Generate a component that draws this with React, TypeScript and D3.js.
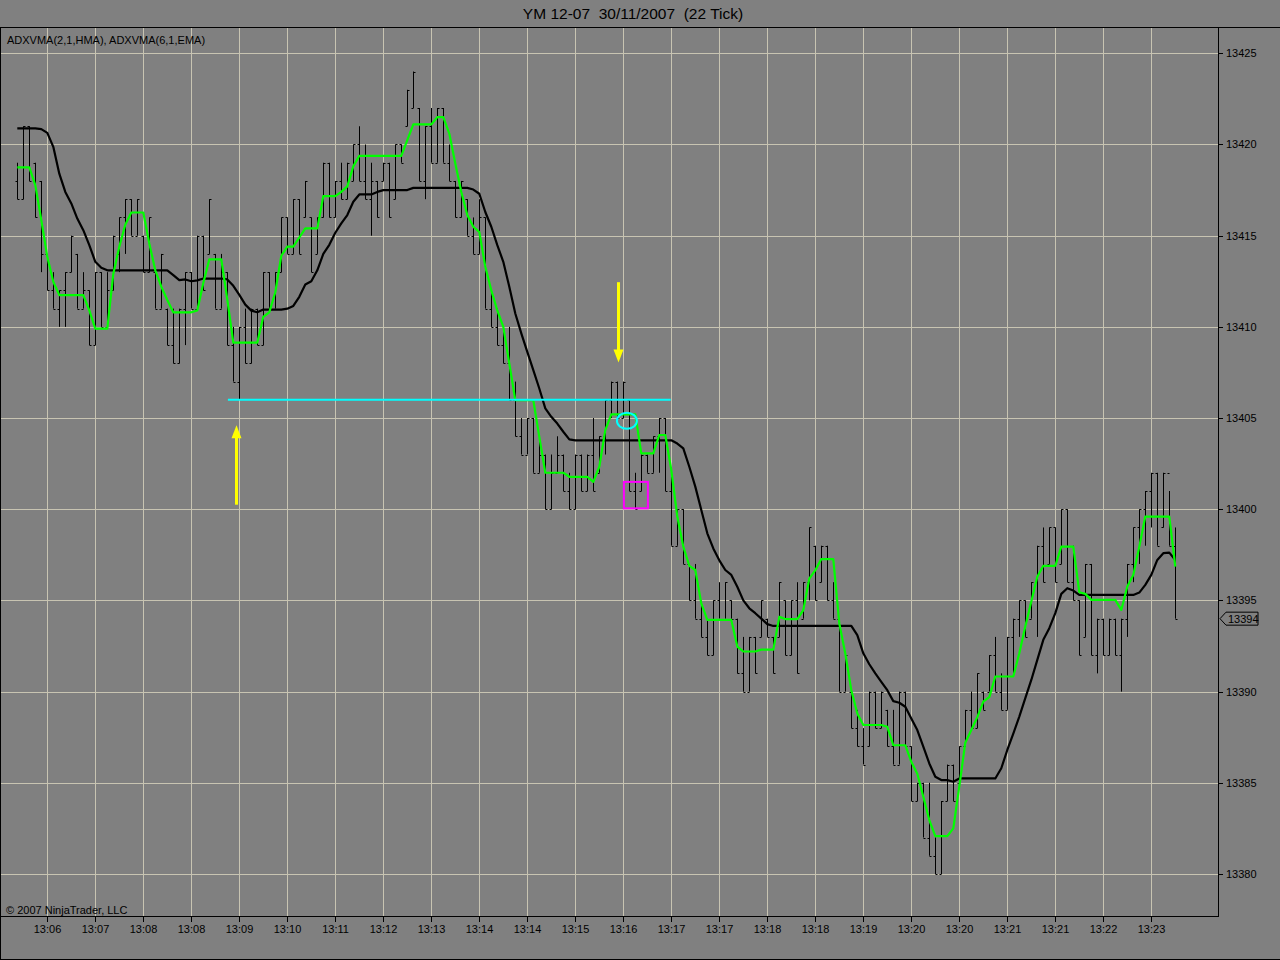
import React from "react";
import * as d3 from "d3";

const highs = [13419,13421,13421,13419,13418,13414,13413,13412,13413,13415,13414,13413,13412,13413,13413,13413,13415,13416,13417,13417,13417,13415,13416,13413,13414,13411,13411,13411,13413,13413,13415,13415,13417,13414,13414,13413,13410,13410,13411,13411,13411,13413,13413,13413,13416,13416,13417,13417,13418,13416,13416,13419,13419,13418,13419,13419,13420,13421,13420,13419,13418,13419,13419,13420,13420,13423,13424,13422,13421,13422,13422,13422,13420,13418,13418,13417,13416,13417,13416,13412,13411,13410,13410,13407,13405,13405,13405,13404,13403,13403,13404,13403,13402,13403,13403,13403,13405,13404,13406,13407,13407,13407,13406,13402,13403,13403,13404,13405,13405,13402,13400,13400,13397,13397,13395,13394,13395,13396,13396,13395,13394,13393,13393,13393,13395,13394,13393,13396,13395,13395,13396,13396,13399,13398,13398,13398,13396,13394,13392,13390,13389,13388,13390,13390,13390,13389,13389,13390,13390,13387,13385,13385,13385,13382,13384,13386,13386,13387,13389,13390,13391,13390,13392,13393,13391,13393,13394,13395,13395,13396,13398,13399,13399,13399,13400,13400,13398,13395,13397,13397,13394,13394,13394,13394,13394,13397,13399,13400,13401,13402,13402,13402,13401,13399];
const lows = [13417,13417,13418,13416,13413,13412,13411,13410,13410,13413,13411,13411,13409,13409,13410,13410,13412,13413,13414,13415,13415,13413,13413,13411,13411,13409,13408,13408,13409,13411,13411,13412,13414,13411,13411,13409,13407,13406,13408,13408,13409,13409,13411,13411,13413,13414,13414,13414,13416,13413,13414,13416,13416,13416,13417,13417,13418,13418,13417,13415,13416,13418,13416,13417,13419,13421,13422,13418,13417,13419,13419,13419,13418,13416,13416,13415,13414,13414,13411,13410,13409,13408,13406,13404,13403,13403,13402,13402,13400,13400,13402,13401,13400,13400,13401,13401,13401,13402,13403,13405,13405,13405,13401,13400,13401,13402,13402,13402,13401,13398,13398,13397,13395,13394,13393,13392,13392,13394,13394,13394,13391,13390,13390,13391,13393,13393,13391,13393,13392,13392,13391,13394,13395,13395,13396,13395,13394,13390,13390,13388,13387,13386,13387,13388,13388,13387,13386,13386,13387,13384,13384,13382,13381,13380,13380,13384,13384,13385,13387,13388,13388,13389,13390,13390,13389,13389,13391,13393,13393,13394,13393,13396,13397,13396,13397,13396,13395,13392,13393,13392,13391,13392,13392,13392,13390,13393,13396,13397,13398,13399,13398,13399,13398,13394];
const opens = [13418,13417,13421,13419,13418,13414,13412,13411,13412,13413,13414,13411,13412,13409,13413,13410,13412,13414,13416,13417,13415,13415,13413,13413,13411,13411,13409,13408,13411,13413,13411,13415,13414,13414,13411,13413,13409,13407,13410,13408,13411,13409,13413,13411,13413,13416,13414,13417,13416,13416,13414,13416,13419,13416,13418,13417,13418,13420,13418,13417,13418,13418,13419,13417,13420,13421,13422,13422,13418,13421,13419,13422,13419,13418,13416,13417,13415,13414,13416,13411,13410,13409,13408,13406,13404,13403,13405,13402,13403,13400,13402,13403,13401,13400,13403,13401,13403,13402,13404,13406,13407,13405,13406,13401,13401,13403,13402,13404,13405,13401,13398,13400,13397,13395,13394,13393,13392,13395,13394,13395,13394,13391,13390,13393,13393,13394,13393,13393,13395,13392,13395,13394,13396,13398,13396,13398,13395,13394,13390,13390,13388,13387,13387,13390,13388,13389,13387,13386,13390,13387,13384,13385,13382,13381,13380,13384,13386,13385,13387,13389,13388,13390,13390,13392,13390,13389,13393,13394,13395,13394,13396,13398,13397,13399,13397,13400,13396,13395,13393,13397,13392,13394,13392,13394,13392,13394,13397,13399,13400,13401,13402,13399,13402,13398];
const closes = [13417,13421,13418,13416,13414,13412,13411,13412,13413,13415,13411,13412,13409,13413,13410,13412,13415,13416,13417,13415,13417,13413,13416,13411,13414,13409,13408,13411,13413,13411,13415,13412,13417,13411,13413,13409,13407,13410,13408,13411,13409,13413,13411,13413,13416,13414,13417,13414,13418,13413,13416,13419,13416,13418,13417,13419,13420,13418,13417,13418,13416,13419,13416,13420,13419,13423,13424,13418,13421,13419,13422,13419,13418,13416,13418,13415,13414,13416,13411,13410,13409,13408,13406,13404,13403,13405,13402,13403,13400,13402,13403,13401,13400,13403,13401,13403,13401,13404,13406,13407,13405,13407,13401,13400,13403,13402,13404,13405,13401,13398,13400,13397,13395,13394,13393,13392,13395,13394,13396,13394,13391,13390,13393,13391,13395,13393,13391,13396,13392,13395,13391,13396,13399,13395,13398,13395,13394,13390,13392,13388,13387,13386,13390,13388,13390,13387,13386,13390,13387,13384,13385,13382,13381,13380,13384,13386,13384,13387,13389,13388,13391,13389,13392,13390,13389,13393,13394,13395,13393,13396,13398,13396,13399,13396,13400,13396,13395,13392,13397,13392,13394,13392,13394,13392,13394,13397,13399,13400,13401,13402,13398,13402,13398,13394];

const adxvmaFast = [13418.74,13418.74,13418.74,13417.77,13415.85,13413.84,13412.47,13411.74,13411.74,13411.74,13411.74,13411.74,13410.9,13409.9,13409.9,13409.9,13412.9,13414.4,13415.6,13416.27,13416.27,13416.27,13414.57,13413.1,13412.2,13411.47,13410.8,13410.8,13410.8,13410.8,13410.9,13412.4,13413.7,13413.7,13413.7,13411.5,13409.14,13409.14,13409.14,13409.14,13409.14,13410.55,13410.8,13411.9,13413.9,13414.4,13414.4,13414.9,13415.4,13415.4,13415.4,13417.17,13417.17,13417.17,13417.4,13417.7,13418.8,13419.38,13419.38,13419.38,13419.38,13419.38,13419.38,13419.38,13419.38,13420.24,13421.1,13421.1,13421.1,13421.1,13421.5,13421.5,13420.6,13418.96,13417.4,13416.13,13415.49,13415.2,13413.3,13412.0,13410.9,13410.0,13407.99,13405.98,13405.98,13405.98,13405.98,13403.97,13402.0,13402.0,13402.0,13402.0,13401.78,13401.78,13401.78,13401.78,13401.5,13402.33,13404.34,13405.2,13405.2,13405.2,13405.2,13405.2,13403.06,13403.06,13403.06,13404.07,13404.07,13402.15,13399.6,13397.95,13396.9,13396.67,13394.84,13393.93,13393.93,13393.93,13393.93,13393.93,13392.47,13392.2,13392.2,13392.2,13392.3,13392.3,13392.3,13394.1,13393.98,13393.98,13393.98,13394.47,13396.2,13396.66,13397.27,13397.27,13397.27,13393.74,13392.09,13390.08,13388.8,13388.17,13388.17,13388.17,13388.17,13388.07,13387.06,13387.06,13387.06,13386.15,13385.5,13384.24,13382.96,13382.08,13382.08,13382.08,13382.5,13384.8,13387.2,13387.9,13388.6,13389.45,13389.7,13390.83,13390.83,13390.83,13390.83,13392.1,13393.57,13394.94,13396.3,13396.9,13396.9,13396.9,13397.95,13397.95,13397.95,13395.45,13395.36,13395.03,13395.03,13395.03,13395.03,13395.03,13394.48,13395.76,13396.4,13397.95,13399.6,13399.6,13399.6,13399.6,13399.6,13396.86];
const adxvmaSlow = [13420.88,13420.88,13420.88,13420.88,13420.84,13420.64,13419.87,13418.4,13417.4,13416.77,13415.94,13415.3,13414.48,13413.57,13413.24,13413.1,13413.1,13413.1,13413.1,13413.1,13413.1,13413.1,13413.1,13413.1,13413.1,13413.1,13412.84,13412.56,13412.6,13412.5,13412.55,13412.65,13412.65,13412.65,13412.65,13412.6,13412.25,13411.75,13411.22,13410.89,13410.8,13410.95,13410.95,13410.95,13410.95,13411.0,13411.15,13411.65,13412.32,13412.5,13413.1,13414.0,13414.5,13415.16,13415.67,13416.13,13416.86,13417.26,13417.26,13417.26,13417.4,13417.5,13417.5,13417.5,13417.5,13417.5,13417.62,13417.62,13417.62,13417.62,13417.62,13417.62,13417.62,13417.62,13417.62,13417.62,13417.53,13417.3,13416.3,13415.49,13414.48,13413.57,13412.2,13410.73,13409.64,13408.63,13407.63,13406.62,13405.53,13405.07,13404.7,13404.25,13403.83,13403.78,13403.78,13403.78,13403.78,13403.78,13403.78,13403.78,13403.78,13403.78,13403.78,13403.78,13403.78,13403.78,13403.78,13403.78,13403.78,13403.78,13403.6,13403.34,13402.33,13401.24,13399.96,13398.68,13397.85,13397.2,13396.67,13396.4,13395.75,13395.0,13394.57,13394.3,13394.0,13393.7,13393.6,13393.6,13393.6,13393.6,13393.6,13393.6,13393.6,13393.6,13393.6,13393.6,13393.6,13393.6,13393.6,13393.6,13393.1,13392.1,13391.5,13391.0,13390.54,13390.08,13389.48,13389.39,13389.17,13388.53,13387.89,13386.98,13386.06,13385.33,13385.15,13385.15,13385.06,13385.24,13385.24,13385.24,13385.24,13385.24,13385.24,13385.24,13385.8,13386.8,13387.7,13388.63,13389.64,13390.64,13391.74,13392.84,13393.48,13394.3,13395.36,13395.67,13395.54,13395.3,13395.3,13395.3,13395.3,13395.3,13395.3,13395.3,13395.3,13395.3,13395.3,13395.43,13395.85,13396.4,13397.22,13397.59,13397.62,13397.22];

const timeLabels = ["13:06","13:07","13:08","13:08","13:09","13:10","13:11","13:12","13:13","13:14","13:14","13:15","13:16","13:17","13:17","13:18","13:18","13:19","13:20","13:20","13:21","13:21","13:22","13:23"];
const timeLabelBars = [5,13,21,29,37,45,53,61,69,77,85,93,101,109,117,125,133,141,149,157,165,173,181,189];
const priceTicks = [13380,13385,13390,13395,13400,13405,13410,13415,13420,13425];

// annotations (bar index / price)
const supportLine = { price: 13406, fromBar: 35.1, toBar: 108.9 };
const upArrow = { bar: 36.45, fromPrice: 13400.25, toPrice: 13404.6 };
const downArrow = { bar: 100.1, fromPrice: 13412.45, toPrice: 13408.05 };
const circleMark = { bar: 101.6, price: 13404.85 };
const boxMark = { fromBar: 101.1, toBar: 105.1, top: 13401.5, bottom: 13400.05 };
const lastPrice = 13394;

const W = 1280, H = 960;
const plotLeft = 0, plotRight = 1218, plotTop = 27, plotBottom = 916;
const font = "'Liberation Sans', Arial, sans-serif";

export default function App() {
  const n = highs.length;
  const x = d3.scaleLinear().domain([0, n - 1]).range([17.3, 17.3 + 6 * (n - 1)]);
  const y = d3.scaleLinear().domain([13380, 13425]).range([874, 53.3]);
  const px = (i: number) => Math.round(x(i)) + 0.5;

  const line = d3.line<number>().x((_, i) => x(i)).y((d) => y(d)).curve(d3.curveLinear);

  const gridColor = "#c8c4b2";
  const ax = px(upArrow.bar), ay0 = y(upArrow.fromPrice), ay1 = y(upArrow.toPrice);
  const dx = px(downArrow.bar), dy0 = y(downArrow.fromPrice), dy1 = y(downArrow.toPrice);
  const lpY = y(lastPrice);

  return (
    <svg width={W} height={H} style={{ position: "absolute", left: 0, top: 0, background: "#808080" }} fontFamily={font}>
      <rect x={0} y={0} width={W} height={H} fill="#808080" />
      <text x={633} y={19} fontSize={15.5} textAnchor="middle" fill="#000" style={{ whiteSpace: "pre" }}>
        {"YM 12-07  30/11/2007  (22 Tick)"}
      </text>
      {/* grid */}
      {timeLabelBars.map((b, k) => (
        <line key={"vg" + k} x1={px(b)} x2={px(b)} y1={plotTop} y2={plotBottom} stroke={gridColor} strokeWidth={1} />
      ))}
      {priceTicks.map((p) => (
        <line key={"hg" + p} x1={plotLeft} x2={plotRight} y1={Math.round(y(p)) + 0.5} y2={Math.round(y(p)) + 0.5} stroke={gridColor} strokeWidth={1} />
      ))}
      {/* frame */}
      <line x1={0} x2={W} y1={27.5} y2={27.5} stroke="#000" />
      <line x1={0.5} x2={0.5} y1={27} y2={H} stroke="#000" />
      <line x1={0} x2={W} y1={959.5} y2={959.5} stroke="#000" />
      <line x1={plotRight + 0.5} x2={plotRight + 0.5} y1={27} y2={plotBottom + 1} stroke="#000" />
      <line x1={0} x2={plotRight + 1} y1={plotBottom + 0.5} y2={plotBottom + 0.5} stroke="#000" />
      {/* y axis */}
      {priceTicks.map((p) => {
        const yy = Math.round(y(p)) + 0.5;
        return (
          <g key={"yt" + p}>
            <line x1={plotRight} x2={plotRight + 5} y1={yy} y2={yy} stroke="#000" />
            <text x={plotRight + 8} y={yy} dy="0.35em" fontSize={11} fill="#000">{p}</text>
          </g>
        );
      })}
      {/* x axis */}
      {timeLabelBars.map((b, k) => (
        <g key={"xt" + k}>
          <line x1={px(b)} x2={px(b)} y1={plotBottom} y2={plotBottom + 6} stroke="#000" />
          <text x={px(b)} y={plotBottom + 13} dy="0.35em" fontSize={11} textAnchor="middle" fill="#000">{timeLabels[k]}</text>
        </g>
      ))}
      <text x={7} y={40} dy="0.35em" fontSize={11} fill="#000">ADXVMA(2,1,HMA), ADXVMA(6,1,EMA)</text>
      <text x={6} y={910} dy="0.35em" fontSize={11} fill="#000">© 2007 NinjaTrader, LLC</text>
      {/* OHLC bars */}
      {highs.map((h, i) => {
        const xx = px(i);
        return (
          <g key={"b" + i} stroke="#000" strokeWidth={1}>
            <line x1={xx} x2={xx} y1={y(h)} y2={y(lows[i])} />
            <line x1={xx - 2} x2={xx} y1={Math.round(y(opens[i])) + 0.5} y2={Math.round(y(opens[i])) + 0.5} />
            <line x1={xx} x2={xx + 2} y1={Math.round(y(closes[i])) + 0.5} y2={Math.round(y(closes[i])) + 0.5} />
          </g>
        );
      })}
      {/* indicators */}
      <path d={line(adxvmaSlow) || ""} fill="none" stroke="#000" strokeWidth={2.2} strokeLinejoin="round" />
      <path d={line(adxvmaFast) || ""} fill="none" stroke="#00ff00" strokeWidth={2.2} strokeLinejoin="round" />
      {/* annotations */}
      <line x1={x(supportLine.fromBar)} x2={x(supportLine.toBar)} y1={y(supportLine.price)} y2={y(supportLine.price)} stroke="#00ffff" strokeWidth={2} />
      <line x1={ax} x2={ax} y1={ay0} y2={ay1 + 8} stroke="#ffff00" strokeWidth={3} />
      <polygon points={`${ax},${ay1} ${ax - 5},${ay1 + 13} ${ax + 5},${ay1 + 13}`} fill="#ffff00" />
      <line x1={dx} x2={dx} y1={dy0} y2={dy1 - 8} stroke="#ffff00" strokeWidth={3} />
      <polygon points={`${dx},${dy1} ${dx - 5},${dy1 - 13} ${dx + 5},${dy1 - 13}`} fill="#ffff00" />
      <ellipse cx={x(circleMark.bar)} cy={y(circleMark.price)} rx={10} ry={8} fill="none" stroke="#00ffff" strokeWidth={2} />
      <rect x={x(boxMark.fromBar)} y={y(boxMark.top)} width={x(boxMark.toBar) - x(boxMark.fromBar)} height={y(boxMark.bottom) - y(boxMark.top)} fill="none" stroke="#ff00ff" strokeWidth={2} />
      {/* last price marker */}
      <polygon points={`${plotRight + 2},${lpY} ${plotRight + 8},${lpY - 6.5} ${plotRight + 40},${lpY - 6.5} ${plotRight + 40},${lpY + 6.5} ${plotRight + 8},${lpY + 6.5}`} fill="#808080" stroke="#000" strokeWidth={1} />
      <text x={plotRight + 10} y={lpY} dy="0.35em" fontSize={11} fill="#000">{lastPrice}</text>
    </svg>
  );
}
